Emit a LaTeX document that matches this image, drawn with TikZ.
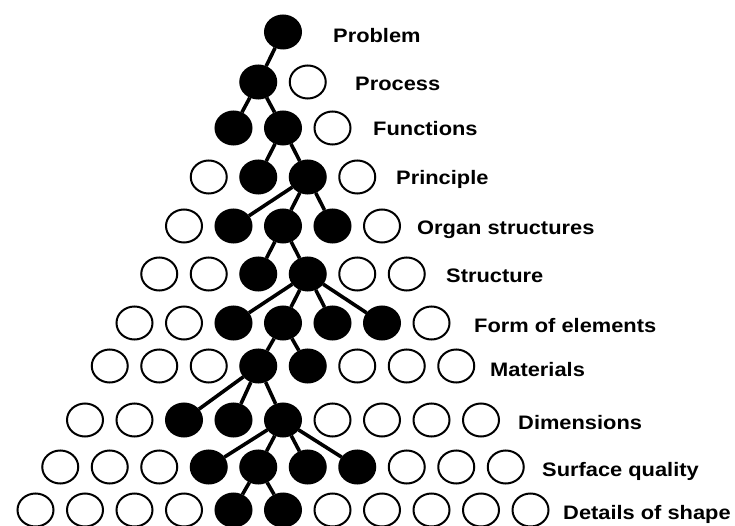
\documentclass[tikz,border=0pt]{standalone}
\usepackage{fontspec}
\setmainfont{Liberation Sans}
\usetikzlibrary{shapes.geometric}

\begin{document}
\begin{tikzpicture}[x=1pt, y=-1pt,
  chosen/.style={ellipse, draw=black, fill=black, line width=2pt,
    minimum width=36pt, minimum height=33pt, inner sep=0pt},
  option/.style={ellipse, draw=black, fill=white, line width=2pt,
    minimum width=36pt, minimum height=33pt, inner sep=0pt},
  link/.style={line width=3.6pt, draw=black},
  level/.style={anchor=base west, inner sep=0pt, xscale=1.12,
    font=\fontsize{19.5}{22}\selectfont\bfseries}
]
\useasboundingbox (0,0) rectangle (735,526);
% one row of the funnel per step, c = chosen, o = option
\foreach \row/\y/\pat in {
  0/32/{chosen},
  1/82/{chosen,option},
  2/128/{chosen,chosen,option},
  3/177/{option,chosen,chosen,option},
  4/226/{option,chosen,chosen,chosen,option},
  5/274/{option,option,chosen,chosen,option,option},
  6/323/{option,option,chosen,chosen,chosen,chosen,option},
  7/366/{option,option,option,chosen,chosen,option,option,option},
  8/420/{option,option,chosen,chosen,chosen,option,option,option,option},
  9/467/{option,option,option,chosen,chosen,chosen,chosen,option,option,option},
  10/510/{option,option,option,option,chosen,chosen,option,option,option,option,option}}
  \foreach \s [count=\k from 0] in \pat
    \node[\s] (n\row-\k) at ({283+(2*\k-\row)*24.75},\y) {};
\draw[link] (n0-0) -- (n1-0);
\draw[link] (n1-0) -- (n2-0) (n1-0) -- (n2-1);
\draw[link] (n2-1) -- (n3-1) (n2-1) -- (n3-2);
\draw[link] (n3-2) -- (n4-1) (n3-2) -- (n4-2) (n3-2) -- (n4-3);
\draw[link] (n4-2) -- (n5-2) (n4-2) -- (n5-3);
\draw[link] (n5-3) -- (n6-2) (n5-3) -- (n6-3) (n5-3) -- (n6-4) (n5-3) -- (n6-5);
\draw[link] (n6-3) -- (n7-3) (n6-3) -- (n7-4);
\draw[link] (n7-3) -- (n8-2) (n7-3) -- (n8-3) (n7-3) -- (n8-4);
\draw[link] (n8-4) -- (n9-3) (n8-4) -- (n9-4) (n8-4) -- (n9-5) (n8-4) -- (n9-6);
\draw[link] (n9-4) -- (n10-4) (n9-4) -- (n10-5);
% step names
\node[level] (problem) at (333,43) {Problem};
\node[level] (process) at (355,91) {Process};
\node[level] (functions) at (373,136) {Functions};
\node[level] (principle) at (396,185) {Principle};
\node[level] (organ) at (417,235) {Organ structures};
\node[level] (structure) at (446,283) {Structure};
\node[level] (form) at (474,332) {Form of elements};
\node[level] (materials) at (490,376) {Materials};
\node[level] (dimensions) at (518,429) {Dimensions};
\node[level] (surface) at (542,476) {Surface quality};
\node[level] (details) at (563,519) {Details of shape};
\end{tikzpicture}
\end{document}
